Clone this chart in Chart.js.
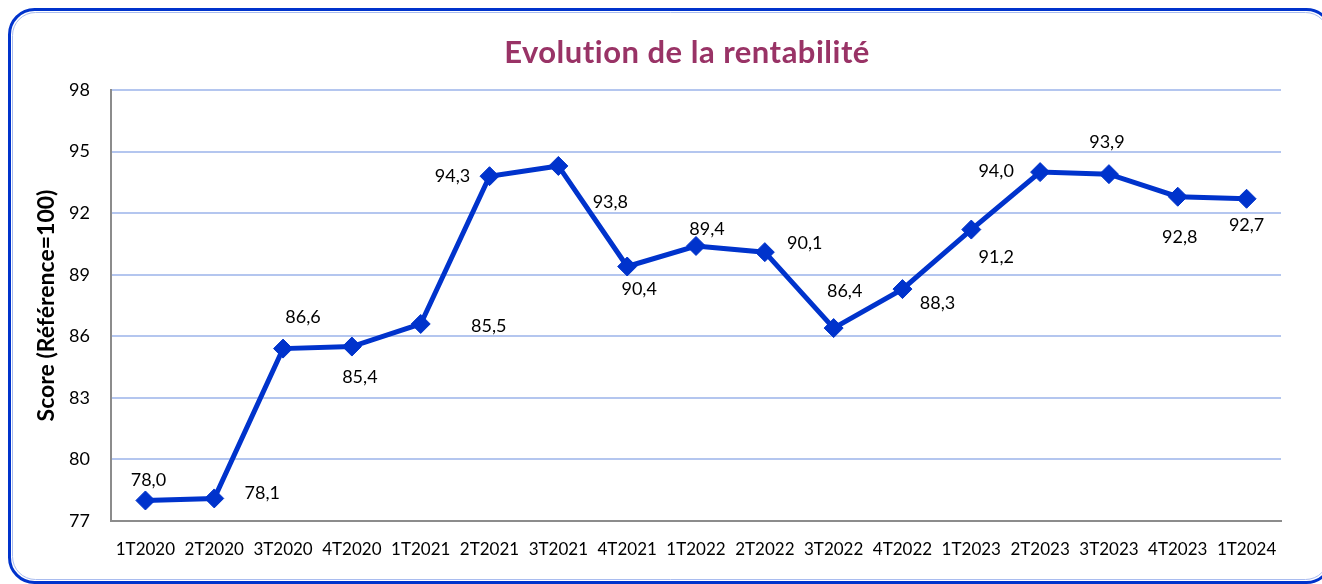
<!DOCTYPE html>
<html>
<head>
<meta charset="utf-8">
<script src="https://cdn.jsdelivr.net/npm/chart.js@4.4.1/dist/chart.umd.min.js"></script>
<style>
  html, body { margin: 0; padding: 0; background: #ffffff; }
  #wrap { width: 1322px; height: 584px; }
</style>
</head>
<body>
<div id="wrap"><canvas id="c" width="1322" height="584"></canvas></div>
<script>
// ---- Data ----
const categories = ['1T2020','2T2020','3T2020','4T2020','1T2021','2T2021','3T2021','4T2021','1T2022','2T2022','3T2022','4T2022','1T2023','2T2023','3T2023','4T2023','1T2024'];
const scores = [78.0, 78.1, 85.4, 85.5, 86.6, 93.8, 94.3, 89.4, 90.4, 90.1, 86.4, 88.3, 91.2, 94.0, 93.9, 92.8, 92.7];
const pointLabels = ['78,0','78,1','86,6','85,4','85,5','94,3','93,8','90,4','89,4','90,1','86,4','88,3','91,2','94,0','93,9','92,8','92,7'];
const yTicks = [77, 80, 83, 86, 89, 92, 95, 98];
const chartTitle = 'Evolution de la rentabilité';
const yAxisTitle = 'Score (Référence=100)';

// label placement relative to each point (style config)
const labelOffsets = [[3,-20],[48,-5],[20,-31],[8,31],[68,2],[-37,0],[52,36],[12,23],[11,-17],[40,-9],[11,-37],[35,14],[25,28],[-44,-1],[-2,-32],[2,40],[0,26]];

const frameAndTitle = {
  id: 'frameAndTitle',
  beforeDraw(chart) {
    const ctx = chart.ctx;
    ctx.save();
    ctx.fillStyle = '#ffffff';
    ctx.fillRect(0, 0, chart.width, chart.height);
    ctx.restore();
  },
  afterDraw(chart) {
    const ctx = chart.ctx;
    ctx.save();
    // outer rounded frame
    ctx.beginPath();
    ctx.roundRect(9.5, 9.5, 1322, 573, 25);
    ctx.lineWidth = 3;
    ctx.strokeStyle = '#0033CC';
    ctx.stroke();
    ctx.beginPath();
    ctx.roundRect(12.5, 12.5, 1316, 567, 23);
    ctx.lineWidth = 1;
    ctx.strokeStyle = '#A9BCEF';
    ctx.stroke();
    // title
    ctx.font = 'bold 31px Lato';
    if ('letterSpacing' in ctx) ctx.letterSpacing = '0.5px';
    ctx.fillStyle = '#993366';
    ctx.textAlign = 'center';
    ctx.textBaseline = 'middle';
    ctx.fillText(chartTitle, 687, 53);
    ctx.restore();
  }
};

const valueLabels = {
  id: 'valueLabels',
  afterDatasetsDraw(chart, args, opts) {
    const ctx = chart.ctx;
    const meta = chart.getDatasetMeta(0);
    ctx.save();
    ctx.font = opts.font;
    ctx.fillStyle = opts.color;
    ctx.textAlign = 'center';
    ctx.textBaseline = 'middle';
    meta.data.forEach((pt, i) => {
      const off = opts.offsets[i] || [0, -20];
      ctx.fillText(pointLabels[i], pt.x + off[0], pt.y + off[1]);
    });
    ctx.restore();
  }
};

new Chart(document.getElementById('c'), {
  type: 'line',
  data: {
    labels: categories,
    datasets: [{
      data: scores,
      borderColor: '#0033CC',
      backgroundColor: '#0033CC',
      borderWidth: 5,
      pointStyle: 'rectRot',
      pointRadius: 9.5,
      pointHoverRadius: 9.5,
      pointBackgroundColor: '#0033CC',
      pointBorderColor: '#0033CC',
      pointBorderWidth: 1,
      tension: 0,
      fill: false
    }]
  },
  options: {
    responsive: false,
    animation: false,
    layout: { padding: { left: 0, right: 41, top: 90, bottom: 0 } },
    plugins: {
      legend: { display: false },
      tooltip: { enabled: false },
      title: { display: false },
      valueLabels: { font: '18px Lato', color: '#000000', offsets: labelOffsets }
    },
    scales: {
      x: {
        type: 'category',
        offset: true,
        grid: { display: true, drawOnChartArea: false, drawTicks: false, color: 'rgba(0,0,0,0)' },
        border: { display: true, color: '#8C8C8C', width: 2 },
        ticks: { font: { family: 'Lato', size: 17 }, color: '#000000', padding: 18, maxRotation: 0, autoSkip: false },
        afterFit(s) { s.height = 63; }
      },
      y: {
        min: 77,
        max: 98,
        afterBuildTicks(s) { s.ticks = yTicks.map(v => ({ value: v })); },
        grid: { color: '#B4C6EF', lineWidth: 2, drawTicks: false },
        border: { display: true, color: '#8C8C8C', width: 2 },
        ticks: { font: { family: 'Lato', size: 18 }, color: '#000000', padding: 21 },
        title: {
          display: true,
          text: yAxisTitle,
          font: { family: 'Lato', size: 23, weight: 'bold' },
          color: '#000000',
          padding: { top: 33, bottom: 0 }
        },
        afterFit(s) { s.width = 111; }
      }
    }
  },
  plugins: [frameAndTitle, valueLabels]
});
</script>
</body>
</html>
